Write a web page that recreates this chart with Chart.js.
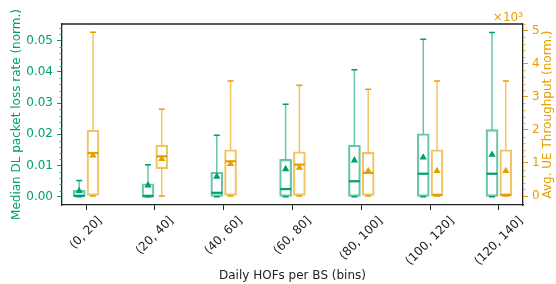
<!DOCTYPE html>
<html>
<head>
<meta charset="utf-8">
<script src="https://cdn.jsdelivr.net/npm/chart.js@4.4.0/dist/chart.umd.min.js"></script>
<style>
  html, body { margin: 0; padding: 0; background: #fff; }
  #chart { display: block; }
</style>
</head>
<body>
<canvas id="chart" width="556" height="284"></canvas>
<script>
// bins on the x axis
const bins = ["(0, 20]", "(20, 40]", "(40, 60]", "(60, 80]", "(80, 100]", "(100, 120]", "(120, 140]"];

// median DL packet loss rate (left axis)
const lossLow = [0, 0, 0, 0, 0, 0, 0];
const lossQ1 = [0, 0, 0, 0, 0, 0, 0];
const lossMed = [0.0003, 0.0002, 0.0013, 0.0025, 0.0050, 0.0074, 0.0074];
const lossQ3 = [0.0021, 0.0042, 0.0079, 0.0120, 0.0165, 0.0202, 0.0215];
const lossHigh = [0.0052, 0.0103, 0.0197, 0.0296, 0.0407, 0.0504, 0.0526];
const lossMean = [0.0019, 0.0037, 0.0065, 0.0089, 0.0117, 0.0126, 0.0135];

// avg UE throughput, x10^3 (right axis)
const thrLow = [0, 0, 0, 0, 0, 0, 0];
const thrQ1 = [0.02, 0.83, 0.02, 0.02, 0.02, 0.02, 0.02];
const thrMed = [1.30, 1.20, 1.05, 0.95, 0.70, 0.03, 0.03];
const thrQ3 = [1.99, 1.54, 1.40, 1.34, 1.32, 1.40, 1.40];
const thrHigh = [4.95, 2.62, 3.48, 3.35, 3.23, 3.48, 3.48];
const thrMean = [1.23, 1.12, 0.97, 0.86, 0.76, 0.76, 0.76];

const green = '#009E73';
const greenLight = 'rgba(0, 158, 115, 0.6)';
const orange = '#E69F00';
const orangeLight = 'rgba(230, 159, 0, 0.6)';
const shift = 0.1;
const boxW = 12;

Chart.defaults.font.family = 'DejaVu Sans';
Chart.defaults.font.size = 12;

function drawWhiskers(ctx, x, y, i, pos, low, q1, med, q3, high, light, dark) {
  const cx = x.getPixelForValue(i + pos);
  const cap = boxW / 4;
  ctx.lineWidth = 1.5;
  ctx.strokeStyle = light;
  ctx.beginPath();
  ctx.moveTo(cx, y.getPixelForValue(q3[i]));
  ctx.lineTo(cx, y.getPixelForValue(high[i]));
  if (q1[i] > low[i]) {
    ctx.moveTo(cx, y.getPixelForValue(q1[i]));
    ctx.lineTo(cx, y.getPixelForValue(low[i]));
  }
  ctx.stroke();
  ctx.strokeStyle = dark;
  ctx.beginPath();
  ctx.moveTo(cx - cap, y.getPixelForValue(high[i]));
  ctx.lineTo(cx + cap, y.getPixelForValue(high[i]));
  ctx.moveTo(cx - cap, y.getPixelForValue(low[i]));
  ctx.lineTo(cx + cap, y.getPixelForValue(low[i]));
  ctx.stroke();
  ctx.lineWidth = 2.2;
  ctx.beginPath();
  ctx.moveTo(cx - boxW / 2 + 0.5, y.getPixelForValue(med[i]));
  ctx.lineTo(cx + boxW / 2 - 0.5, y.getPixelForValue(med[i]));
  ctx.stroke();
}

const boxExtras = {
  id: 'boxExtras',
  afterDatasetDraw(chart, args) {
    const ctx = chart.ctx;
    const x = chart.scales.x;
    ctx.save();
    if (args.index === 2) {
      for (let i = 0; i < bins.length; i++) {
        drawWhiskers(ctx, x, chart.scales.y, i, -shift, lossLow, lossQ1, lossMed, lossQ3, lossHigh, greenLight, green);
      }
    }
    if (args.index === 3) {
      for (let i = 0; i < bins.length; i++) {
        drawWhiskers(ctx, x, chart.scales.y2, i, shift, thrLow, thrQ1, thrMed, thrQ3, thrHigh, orangeLight, orange);
      }
    }
    ctx.restore();
  },
  afterDraw(chart) {
    const ctx = chart.ctx;
    const {x, y, y2} = chart.scales;
    const area = chart.chartArea;
    ctx.save();

    // top spine
    ctx.strokeStyle = '#222';
    ctx.lineWidth = 1.3;
    ctx.beginPath();
    ctx.moveTo(area.left, area.top);
    ctx.lineTo(area.right, area.top);
    ctx.stroke();

    // minor ticks
    ctx.lineWidth = 0.8;
    ctx.strokeStyle = green;
    ctx.beginPath();
    for (let k = 1; k <= 27; k++) {
      if (k % 5 === 0) continue;
      const py = Math.round(y.getPixelForValue(k * 0.002)) + 0.5;
      ctx.moveTo(area.left, py);
      ctx.lineTo(area.left - 2.5, py);
    }
    ctx.stroke();
    ctx.strokeStyle = orange;
    ctx.beginPath();
    for (let k = 1; k <= 26; k++) {
      if (k % 5 === 0) continue;
      const py = Math.round(y2.getPixelForValue(k * 0.2)) + 0.5;
      ctx.moveTo(area.right, py);
      ctx.lineTo(area.right + 2.5, py);
    }
    ctx.stroke();

    // rotated x tick labels, centred under their ticks
    ctx.fillStyle = '#222';
    ctx.font = '12px "DejaVu Sans"';
    ctx.textAlign = 'center';
    ctx.textBaseline = 'middle';
    bins.forEach((b, i) => {
      const w = ctx.measureText(b).width;
      const h = (w + 14) * Math.SQRT1_2;
      ctx.save();
      ctx.translate(x.getPixelForValue(i), area.bottom + 9 + h / 2);
      ctx.rotate(-Math.PI / 4);
      ctx.fillText(b, 0, 0);
      ctx.restore();
    });

    // right axis title and offset text
    ctx.fillStyle = orange;
    ctx.save();
    ctx.translate(548, (area.top + area.bottom) / 2);
    ctx.rotate(-Math.PI / 2);
    ctx.fillText('Avg. UE Throughput (norm.)', 0, 0);
    ctx.restore();
    ctx.textAlign = 'right';
    ctx.textBaseline = 'alphabetic';
    ctx.fillText('\u00d710\u00b3', area.right, area.top - 3);
    ctx.restore();
  }
};

new Chart(document.getElementById('chart'), {
  type: 'bar',
  data: {
    datasets: [
      {
        type: 'scatter',
        data: lossMean.map((v, i) => ({x: i - shift, y: v})),
        yAxisID: 'y',
        pointStyle: 'triangle',
        radius: 4.2,
        backgroundColor: green,
        borderWidth: 0
      },
      {
        type: 'scatter',
        data: thrMean.map((v, i) => ({x: i + shift, y: v})),
        yAxisID: 'y2',
        pointStyle: 'triangle',
        radius: 4.2,
        backgroundColor: orange,
        borderWidth: 0
      },
      {
        data: lossQ1.map((v, i) => ({x: i - shift, y: [v, lossQ3[i]]})),
        yAxisID: 'y',
        grouped: false,
        barThickness: boxW,
        backgroundColor: 'rgba(0,0,0,0)',
        borderColor: greenLight,
        borderWidth: 1.5,
        borderSkipped: false
      },
      {
        data: thrQ1.map((v, i) => ({x: i + shift, y: [v, thrQ3[i]]})),
        yAxisID: 'y2',
        grouped: false,
        barThickness: boxW,
        backgroundColor: 'rgba(0,0,0,0)',
        borderColor: orangeLight,
        borderWidth: 1.5,
        borderSkipped: false
      }
    ]
  },
  options: {
    responsive: false,
    animation: false,
    devicePixelRatio: 1,
    layout: { padding: { top: 24, left: 0, right: 0, bottom: 0 } },
    plugins: { legend: { display: false }, tooltip: { enabled: false } },
    scales: {
      x: {
        type: 'linear',
        offset: false,
        min: -0.35,
        max: 6.35,
        afterFit: s => { s.height = 79; },
        grid: { offset: false, drawOnChartArea: false, tickLength: 5, tickColor: '#222', tickWidth: 1 },
        border: { color: '#222', width: 1.3 },
        ticks: { display: false, stepSize: 1, includeBounds: false },
        title: { display: true, text: 'Daily HOFs per BS (bins)', color: '#222', padding: { bottom: 1 } }
      },
      y: {
        position: 'left',
        min: -0.0026,
        max: 0.0553,
        afterFit: s => { s.width = 62; },
        grid: { drawOnChartArea: false, tickLength: 5, tickColor: green, tickWidth: 1 },
        border: { color: '#222', width: 1.3 },
        ticks: { stepSize: 0.01, includeBounds: false, color: green, padding: 4, callback: v => v.toFixed(2) },
        title: { display: true, text: 'Median DL packet loss rate (norm.)', color: green, padding: { top: 10 } }
      },
      y2: {
        position: 'right',
        min: -0.27,
        max: 5.2,
        afterFit: s => { s.width = 33; },
        grid: { drawOnChartArea: false, tickLength: 5, tickColor: orange, tickWidth: 1 },
        border: { color: '#222', width: 1.3 },
        ticks: { stepSize: 1, includeBounds: false, color: orange, padding: 4, callback: v => v.toFixed(0) }
      }
    }
  },
  plugins: [boxExtras]
});
</script>
</body>
</html>
